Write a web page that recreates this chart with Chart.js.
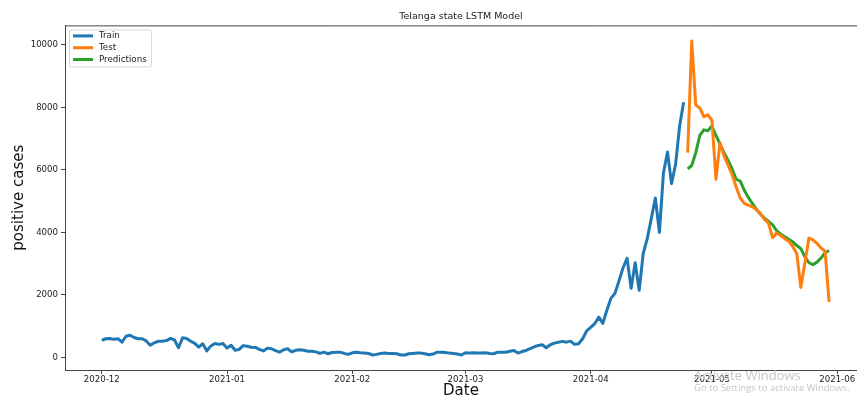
<!DOCTYPE html>
<html>
<head>
<meta charset="utf-8">
<title>Telanga state LSTM Model</title>
<script src="https://cdn.jsdelivr.net/npm/chart.js@4.4.0/dist/chart.umd.min.js"></script>
<style>
  body { margin: 0; background: #fff; }
  #wrap { position: relative; width: 857px; height: 399px; }
  .wm { position: absolute; color: #c6c6c6; font-family: "Open Sans", "DejaVu Sans", sans-serif; white-space: nowrap; line-height: 1; }
</style>
</head>
<body>
<div id="wrap">
  <canvas id="chart" width="857" height="399"></canvas>
  <div class="wm" style="left:694px; top:369px; font-size:13px;">Activate Windows</div>
  <div class="wm" style="left:694px; top:383px; font-size:9.5px;">Go to Settings to activate Windows.</div>
</div>
<script>
// x is days since 2020-12-01
const monthLabels = ['2020-12', '2021-01', '2021-02', '2021-03', '2021-04', '2021-05', '2021-06'];
const monthDays = [0, 31, 62, 90, 121, 151, 182];
const yTicks = [0, 2000, 4000, 6000, 8000, 10000];

const trainStart = 0;   // 2020-12-01
const testStart = 145;  // 2021-04-25

const trainValues = [
  550, 600, 610, 580, 600, 490, 680, 710, 640, 600,
  600, 530, 390, 470, 520, 520, 540, 610, 560, 310,
  630, 610, 520, 450, 330, 440, 210, 370, 450, 420,
  450, 300, 390, 230, 260, 380, 360, 330, 320, 260,
  210, 300, 280, 220, 170, 250, 280, 180, 230, 250,
  230, 200, 200, 180, 130, 170, 120, 160, 170, 170,
  130, 100, 150, 170, 150, 140, 130, 80, 100, 130,
  140, 130, 130, 120, 80, 80, 120, 130, 140, 140,
  120, 90, 110, 170, 170, 160, 140, 130, 110, 80,
  150, 140, 150, 140, 140, 150, 130, 120, 170, 170,
  170, 200, 225, 140, 190, 225, 280, 340, 385, 408,
  310, 408, 460, 490, 515, 490, 525, 420, 440, 600,
  850, 960, 1080, 1290, 1090, 1510, 1890, 2050, 2450, 2870,
  3170, 2210, 3030, 2150, 3330, 3800, 4450, 5100, 4000, 5900,
  6570, 5560, 6170, 7400, 8160
];

const testValues = [
  6550, 10120, 8070, 7980, 7700, 7760, 7580, 5700, 6870, 6450,
  6150, 5850, 5450, 5100, 4930, 4870, 4820, 4730, 4600, 4420,
  4300, 3830, 3980, 3900, 3800, 3720, 3550, 3320, 2240, 3030,
  3820, 3760, 3650, 3500, 3400, 1780
];

const predValues = [
  6030, 6140, 6550, 7100, 7280, 7250, 7400, 7100, 6820, 6550,
  6300, 6030, 5700, 5640, 5350, 5120, 4930, 4740, 4580, 4460,
  4350, 4250, 4060, 3950, 3860, 3780, 3700, 3580, 3480, 3220,
  3030, 2970, 3050, 3180, 3350, 3420
];

function toPoints(values, start) {
  return values.map((v, i) => ({ x: start + i, y: v }));
}

const font = 'DejaVu Sans';

// top spine + legend box like matplotlib
const framePlugin = {
  id: 'frame',
  afterDraw(chart) {
    const ctx = chart.ctx;
    const area = chart.chartArea;
    ctx.save();
    ctx.strokeStyle = '#444';
    ctx.lineWidth = 1;
    ctx.beginPath();
    ctx.moveTo(area.left, area.top + 0.5);
    ctx.lineTo(area.right, area.top + 0.5);
    ctx.stroke();

    // legend
    const x = area.left + 4, y = area.top + 4, w = 82, h = 37;
    ctx.fillStyle = 'rgba(255,255,255,0.8)';
    ctx.strokeStyle = '#d8d8d8';
    ctx.beginPath();
    ctx.roundRect(x + 0.5, y + 0.5, w, h, 2);
    ctx.fill();
    ctx.stroke();
    ctx.font = '8.7px "' + font + '"';
    ctx.textBaseline = 'middle';
    chart.data.datasets.forEach((ds, i) => {
      const ly = y + 6.5 + i * 11.8;
      ctx.strokeStyle = ds.borderColor;
      ctx.lineWidth = 3;
      ctx.beginPath();
      ctx.moveTo(x + 4, ly);
      ctx.lineTo(x + 24, ly);
      ctx.stroke();
      ctx.fillStyle = '#222';
      ctx.fillText(ds.label, x + 30, ly);
    });
    ctx.restore();
  }
};

new Chart(document.getElementById('chart'), {
  type: 'line',
  data: {
    datasets: [
      { label: 'Train', data: toPoints(trainValues, trainStart), borderColor: '#1f77b4' },
      { label: 'Test', data: toPoints(testValues, testStart), borderColor: '#ff7f0e' },
      { label: 'Predictions', data: toPoints(predValues, testStart), borderColor: '#2ca02c' }
    ]
  },
  options: {
    responsive: false,
    animation: false,
    devicePixelRatio: 1,
    datasets: {
      line: { borderWidth: 3, pointRadius: 0, tension: 0, fill: false, borderJoinStyle: 'round' }
    },
    layout: { padding: 0 },
    plugins: {
      legend: { display: false },
      tooltip: { enabled: false },
      title: {
        display: true,
        text: 'Telanga state LSTM Model',
        fullSize: false,
        color: '#222',
        font: { family: font, size: 9.5, weight: 'normal' },
        padding: { top: 11, bottom: 3 }
      }
    },
    scales: {
      x: {
        type: 'linear',
        min: -9.1,
        max: 186.9,
        afterBuildTicks: axis => { axis.ticks = monthDays.map(d => ({ value: d })); },
        afterFit: axis => { axis.height = 29; axis.paddingLeft = 0; axis.paddingRight = 0; },
        ticks: {
          callback: (v, i) => monthLabels[i],
          autoSkip: false,
          maxRotation: 0,
          padding: 1,
          color: '#222',
          font: { family: font, size: 8.6 }
        },
        grid: { drawOnChartArea: false, drawTicks: true, tickLength: 4, color: '#444' },
        border: { color: '#444', width: 1 },
        title: {
          display: true,
          text: 'Date',
          color: '#111',
          font: { family: font, size: 15, lineHeight: 1 },
          padding: { top: 0, bottom: 0 }
        }
      },
      y: {
        min: -400,
        max: 10620,
        afterBuildTicks: axis => { axis.ticks = yTicks.map(v => ({ value: v })); },
        afterFit: axis => { axis.width = 65; },
        ticks: {
          callback: v => String(v),
          padding: 3,
          color: '#222',
          font: { family: font, size: 8.6 }
        },
        grid: { drawOnChartArea: false, drawTicks: true, tickLength: 4, color: '#444' },
        border: { color: '#444', width: 1 },
        title: {
          display: true,
          text: 'positive cases',
          color: '#111',
          font: { family: font, size: 15, lineHeight: 1 },
          padding: { top: 12, bottom: 0 }
        }
      }
    }
  },
  plugins: [framePlugin]
});
</script>
</body>
</html>
